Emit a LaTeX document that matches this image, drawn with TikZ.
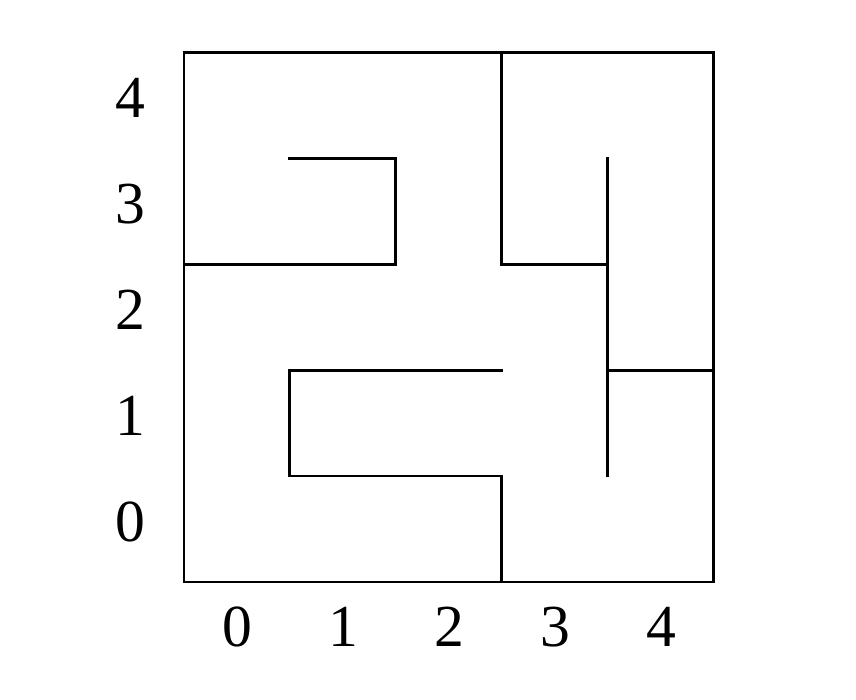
\documentclass[tikz,border=0pt]{standalone}
\usepackage{fontspec}
\setmainfont{Liberation Serif}
\usetikzlibrary{positioning}
\newcommand{\mazefont}{\fontsize{16}{18}\selectfont}

\begin{document}
\begin{tikzpicture}[
        x=1cm, y=1cm,
        wall/.style={draw, line width=0.8pt, line cap=rect, line join=miter},
        idx/.style={font=\mazefont, inner sep=0pt, text height=10.8pt, text depth=0pt}
      ]
      \useasboundingbox (-2.236,-1.613) rectangle (5.84,4.991);

      % outer frame
      \draw[wall] (-0.5,-0.5) rectangle (4.5,4.5);

      % inner walls
      \draw[wall] (2.5,4.5) -- (2.5,2.5) -- (3.5,2.5);
      \draw[wall] (3.5,3.5) -- (3.5,0.5);
      \draw[wall] (3.5,1.5) -- (4.5,1.5);
      \draw[wall] (-0.5,2.5) -- (1.5,2.5) -- (1.5,3.5) -- (0.5,3.5);
      \draw[wall] (2.5,1.5) -- (0.5,1.5) -- (0.5,0.5) -- (2.5,0.5) -- (2.5,-0.5);

      % row and column numbers
      \foreach \i in {0,...,4} {
        \node[idx] (col\i) at (\i,-0.92) {\i};
        \node[idx] (row\i) at (-1.01,\i+0.07) {\i};
      }
    \end{tikzpicture}
\end{document}
